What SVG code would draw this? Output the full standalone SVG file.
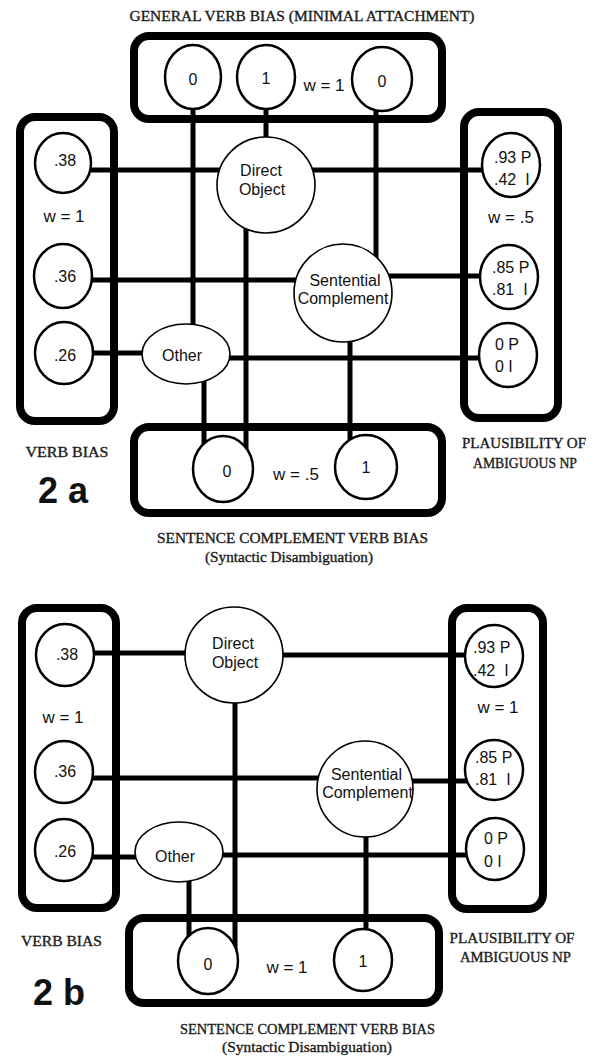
<svg xmlns="http://www.w3.org/2000/svg" width="593" height="1057" viewBox="0 0 593 1057">
<style>
.box{fill:none;stroke:#000;stroke-width:8}
.node{fill:#fff;stroke:#000;stroke-width:2.5}
.big{fill:#fff;stroke:#000;stroke-width:1.6}
.wire{stroke:#000;stroke-width:5;fill:none}
.t{font-family:"Liberation Sans",Arial,sans-serif;font-size:16px;fill:#111}
.m{text-anchor:middle}
.w{font-size:17px}
.lab{font-family:"Liberation Serif","Times New Roman",serif;font-size:15px;fill:#1a1a1a;stroke:#1a1a1a;stroke-width:0.35;text-anchor:middle}
.fig{font-family:"Liberation Sans",Arial,sans-serif;font-weight:bold;font-size:36px;fill:#111}
</style>
<rect width="593" height="1057" fill="#fff"/>

<!-- ===================== 2a ===================== -->
<g id="a-labels">
<text class="lab" x="302" y="20.5" textLength="345" lengthAdjust="spacingAndGlyphs">GENERAL VERB BIAS (MINIMAL ATTACHMENT)</text>
<text class="lab" x="67" y="457" font-size="16" textLength="83" lengthAdjust="spacingAndGlyphs">VERB BIAS</text>
<text class="fig" x="38" y="503">2 a</text>
<text class="lab" x="524" y="447.5" textLength="124" lengthAdjust="spacingAndGlyphs">PLAUSIBILITY OF</text>
<text class="lab" x="525" y="467.5" textLength="104" lengthAdjust="spacingAndGlyphs">AMBIGUOUS NP</text>
<text class="lab" x="292.5" y="542.5" textLength="271" lengthAdjust="spacingAndGlyphs">SENTENCE COMPLEMENT VERB BIAS</text>
<text class="lab" x="289" y="562" font-size="14" textLength="168" lengthAdjust="spacingAndGlyphs">(Syntactic Disambiguation)</text>
</g>

<g id="a-boxes">
<rect id="a-box-general" class="box" x="134" y="36" width="308" height="83" rx="15"/>
<rect id="a-box-verb" class="box" x="20" y="117" width="94" height="304" rx="15"/>
<rect id="a-box-plaus" class="box" x="464" y="112" width="94" height="306" rx="15"/>
<rect id="a-box-sc" class="box" x="134" y="427" width="308" height="86" rx="15"/>
</g>

<g id="a-connectors">
<line class="wire" x1="90" y1="170" x2="225" y2="170"/>
<line class="wire" x1="310" y1="170" x2="484" y2="170"/>
<line class="wire" x1="90" y1="280" x2="300" y2="280"/>
<line class="wire" x1="388" y1="276" x2="482" y2="276"/>
<line class="wire" x1="90" y1="353" x2="146" y2="353"/>
<line class="wire" x1="226" y1="358" x2="482" y2="358"/>
<line class="wire" x1="193" y1="105" x2="193" y2="328"/>
<line class="wire" x1="266" y1="105" x2="266" y2="142"/>
<line class="wire" x1="376" y1="107" x2="376" y2="262"/>
<line class="wire" x1="246" y1="226" x2="246" y2="450"/>
<line class="wire" x1="204" y1="380" x2="204" y2="446"/>
<line class="wire" x1="350" y1="338" x2="350" y2="442"/>
</g>

<g id="a-gen-0"><ellipse class="node" cx="193" cy="77" rx="28" ry="32"/><text class="t m" x="193" y="85">0</text></g>
<g id="a-gen-1"><ellipse class="node" cx="266" cy="77" rx="29" ry="32"/><text class="t m" x="266" y="84">1</text></g>
<g id="a-gen-w"><text class="t w m" x="324" y="91" xml:space="preserve">w = 1</text></g>
<g id="a-gen-0b"><ellipse class="node" cx="382" cy="79" rx="30" ry="32"/><text class="t m" x="382" y="87">0</text></g>

<g id="a-vb-38"><ellipse class="node" cx="63" cy="163" rx="28" ry="30"/><text class="t m" x="65" y="166">.38</text></g>
<g id="a-vb-w"><text class="t w m" x="64" y="222" xml:space="preserve">w = 1</text></g>
<g id="a-vb-36"><ellipse class="node" cx="63" cy="276" rx="29" ry="32"/><text class="t m" x="65" y="282">.36</text></g>
<g id="a-vb-26"><ellipse class="node" cx="64" cy="353" rx="29" ry="31"/><text class="t m" x="65" y="361">.26</text></g>

<g id="a-pl-93"><ellipse class="node" cx="511" cy="165" rx="29" ry="32"/><text class="t" x="494" y="163" xml:space="preserve">.93 P</text><text class="t" x="494" y="185" xml:space="preserve">.42  I</text></g>
<g id="a-pl-w"><text class="t w m" x="511" y="223" xml:space="preserve">w = .5</text></g>
<g id="a-pl-85"><ellipse class="node" cx="509" cy="277" rx="29" ry="32"/><text class="t" x="492" y="273" xml:space="preserve">.85 P</text><text class="t" x="492" y="295" xml:space="preserve">.81  I</text></g>
<g id="a-pl-0"><ellipse class="node" cx="508" cy="355" rx="29" ry="32"/><text class="t" x="495" y="350" xml:space="preserve">0 P</text><text class="t" x="495" y="372" xml:space="preserve">0 I</text></g>

<g id="a-do"><ellipse class="big" cx="266" cy="185" rx="49" ry="48"/><text class="t m" x="261" y="176">Direct</text><text class="t m" x="262" y="195">Object</text></g>
<g id="a-sc"><circle class="big" cx="343" cy="293" r="49"/><text class="t m" x="345" y="286">Sentential</text><text class="t m" x="343" y="304">Complement</text></g>
<g id="a-other"><ellipse class="big" cx="186" cy="354" rx="44" ry="30"/><text class="t m" x="182" y="361">Other</text></g>

<g id="a-sc-0"><ellipse class="node" cx="223" cy="469" rx="30" ry="33"/><text class="t m" x="227" y="477">0</text></g>
<g id="a-sc-w"><text class="t w m" x="296" y="480" xml:space="preserve">w = .5</text></g>
<g id="a-sc-1"><ellipse class="node" cx="366" cy="467" rx="31" ry="32"/><text class="t m" x="366" y="473">1</text></g>

<!-- ===================== 2b ===================== -->
<g id="b-labels">
<text class="lab" x="61.5" y="945.5" font-size="16" textLength="81" lengthAdjust="spacingAndGlyphs">VERB BIAS</text>
<text class="fig" x="33" y="1005">2 b</text>
<text class="lab" x="512" y="942.5" textLength="125" lengthAdjust="spacingAndGlyphs">PLAUSIBILITY OF</text>
<text class="lab" x="515.5" y="961.5" textLength="111" lengthAdjust="spacingAndGlyphs">AMBIGUOUS NP</text>
<text class="lab" x="307.5" y="1033.5" textLength="255" lengthAdjust="spacingAndGlyphs">SENTENCE COMPLEMENT VERB BIAS</text>
<text class="lab" x="307" y="1052" font-size="14" textLength="170" lengthAdjust="spacingAndGlyphs">(Syntactic Disambiguation)</text>
</g>

<g id="b-boxes">
<rect id="b-box-verb" class="box" x="22" y="608" width="94" height="300" rx="15"/>
<rect id="b-box-plaus" class="box" x="452" y="608" width="91" height="301" rx="15"/>
<rect id="b-box-sc" class="box" x="129" y="918" width="310" height="85" rx="15"/>
</g>

<g id="b-connectors">
<line class="wire" x1="92" y1="653" x2="190" y2="653"/>
<line class="wire" x1="278" y1="655" x2="468" y2="655"/>
<line class="wire" x1="92" y1="778" x2="322" y2="778"/>
<line class="wire" x1="408" y1="781" x2="468" y2="781"/>
<line class="wire" x1="92" y1="857" x2="139" y2="857"/>
<line class="wire" x1="220" y1="855" x2="469" y2="855"/>
<line class="wire" x1="235" y1="700" x2="235" y2="952"/>
<line class="wire" x1="189" y1="878" x2="189" y2="938"/>
<line class="wire" x1="366" y1="832" x2="366" y2="934"/>
</g>

<g id="b-vb-38"><ellipse class="node" cx="65" cy="655" rx="29" ry="31"/><text class="t m" x="67" y="660">.38</text></g>
<g id="b-vb-w"><text class="t w m" x="63" y="723" xml:space="preserve">w = 1</text></g>
<g id="b-vb-36"><ellipse class="node" cx="64" cy="772" rx="29" ry="31"/><text class="t m" x="65" y="777">.36</text></g>
<g id="b-vb-26"><ellipse class="node" cx="64" cy="850" rx="29" ry="31"/><text class="t m" x="65" y="857">.26</text></g>

<g id="b-pl-93"><ellipse class="node" cx="494" cy="656" rx="29" ry="31"/><text class="t" x="473" y="653" xml:space="preserve">.93 P</text><text class="t" x="473" y="676" xml:space="preserve">.42  I</text></g>
<g id="b-pl-w"><text class="t w m" x="498" y="713" xml:space="preserve">w = 1</text></g>
<g id="b-pl-85"><ellipse class="node" cx="494" cy="770" rx="29" ry="30"/><text class="t" x="475" y="763" xml:space="preserve">.85 P</text><text class="t" x="475" y="785" xml:space="preserve">.81  I</text></g>
<g id="b-pl-0"><ellipse class="node" cx="495" cy="849" rx="29" ry="31"/><text class="t" x="484" y="844" xml:space="preserve">0 P</text><text class="t" x="484" y="867" xml:space="preserve">0 I</text></g>

<g id="b-do"><ellipse class="big" cx="234" cy="655" rx="49" ry="48"/><text class="t m" x="233" y="649">Direct</text><text class="t m" x="235" y="668">Object</text></g>
<g id="b-sc"><circle class="big" cx="365" cy="789" r="48"/><text class="t m" x="366.5" y="780">Sentential</text><text class="t m" x="367.5" y="798">Complement</text></g>
<g id="b-other"><ellipse class="big" cx="179" cy="852" rx="44" ry="30"/><text class="t m" x="175" y="862">Other</text></g>

<g id="b-sc-0"><ellipse class="node" cx="208" cy="961" rx="30" ry="33"/><text class="t m" x="208" y="970">0</text></g>
<g id="b-sc-w"><text class="t w m" x="287" y="973" xml:space="preserve">w = 1</text></g>
<g id="b-sc-1"><ellipse class="node" cx="363" cy="960" rx="29" ry="31"/><text class="t m" x="363" y="967">1</text></g>
</svg>
